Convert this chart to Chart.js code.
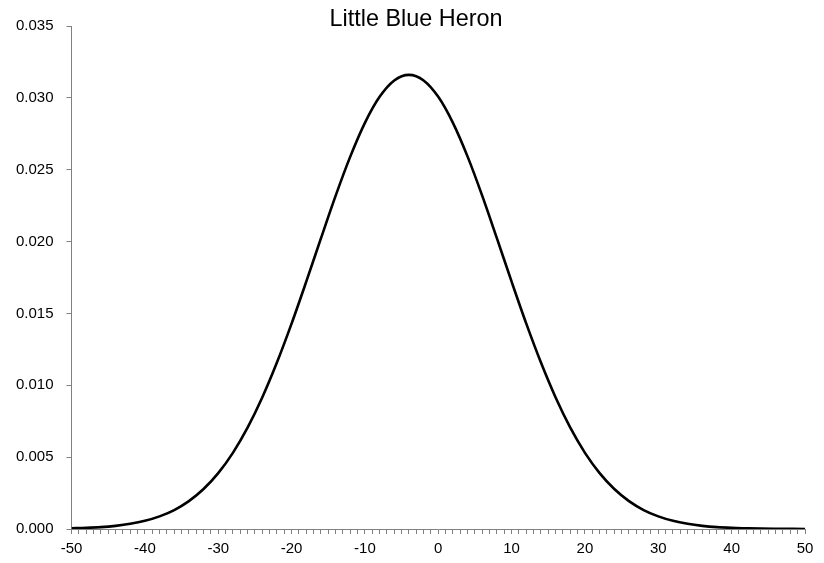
<!DOCTYPE html>
<html>
<head>
<meta charset="utf-8">
<script src="https://cdn.jsdelivr.net/npm/chart.js@4/dist/chart.umd.min.js"></script>
<style>
html,body{margin:0;padding:0;background:#fff;}
#wrap{width:824px;height:563px;}
</style>
</head>
<body>
<div id="wrap"><canvas id="my_Chart" width="824" height="563"></canvas></div>
<script>
// values, x every 2 units
var xVals=[-50,-48,-46,-44,-42,-40,-38,-36,-34,-32,-30,-28,-26,-24,-22,-20,-18,-16,-14,-12,-10,-8,-6,-4,-2,
  0,2,4,6,8,10,12,14,16,18,20,22,24,26,28,30,32,34,36,38,40,42,44,46,48,50];
var yVals=[0.00005,0.00008,0.00013,0.00022,0.00036,0.00057,0.00088,0.00132,0.00194,0.00278,
  0.00389,0.0053,0.00705,0.00915,0.01158,0.01429,0.01721,0.02022,0.02318,0.02591,
  0.02826,0.03007,0.03121,0.0316,0.03121,0.03007,0.02826,0.02591,0.02318,0.02022,
  0.01721,0.01429,0.01158,0.00915,0.00705,0.0053,0.00389,0.00278,0.00194,0.00132,
  0.00088,0.00057,0.00036,0.00022,0.00013,0.00008,0.00005,0.000025,0.000014,0.000007,0.000004];
var titleText='Little Blue Heron';

var pts=[];
for(var i=0;i<xVals.length;i++){pts.push({x:xVals[i],y:yVals[i]});}

var titlePlugin={
  id:'topTitle',
  afterDraw:function(chart){
    var c=chart.ctx;
    c.save();
    c.fillStyle='#000';
    c.font='23.4px "Liberation Sans", Arial, sans-serif';
    c.textAlign='center';
    c.textBaseline='middle';
    c.fillText(titleText,416,20);
    c.restore();
  }
};

var ctx=document.getElementById('my_Chart').getContext('2d');
var myChart=new Chart(ctx,{
  type:'line',
  data:{datasets:[{
    data:pts,
    borderColor:'#000',
    borderWidth:2.6,
    pointRadius:0,
    fill:false,
    cubicInterpolationMode:'monotone'
  }]},
  options:{
    responsive:false,
    animation:false,
    layout:{padding:{left:3,right:19,top:26,bottom:0}},
    plugins:{legend:{display:false},tooltip:{enabled:false},title:{display:false}},
    scales:{
      x:{
        type:'linear',min:-50,max:50,
        border:{color:'#808080',width:1},
        grid:{display:true,drawOnChartArea:false,drawTicks:true,tickLength:5,color:'#808080'},
        ticks:{stepSize:1,autoSkip:false,maxRotation:0,padding:7,color:'#000',
          font:{family:'"Liberation Sans", Arial',size:15,lineHeight:1.0},
          callback:function(v){return v%10===0?String(v):'';}}
      },
      y:{
        min:0,max:0.035,
        border:{color:'#808080',width:1},
        grid:{display:true,drawOnChartArea:false,drawTicks:true,tickLength:5,color:'#808080'},
        ticks:{stepSize:0.005,padding:13,color:'#000',
          font:{family:'"Liberation Sans", Arial',size:15},
          callback:function(v){return v.toFixed(3);}}
      }
    }
  },
  plugins:[titlePlugin]
});
</script>
</body>
</html>
